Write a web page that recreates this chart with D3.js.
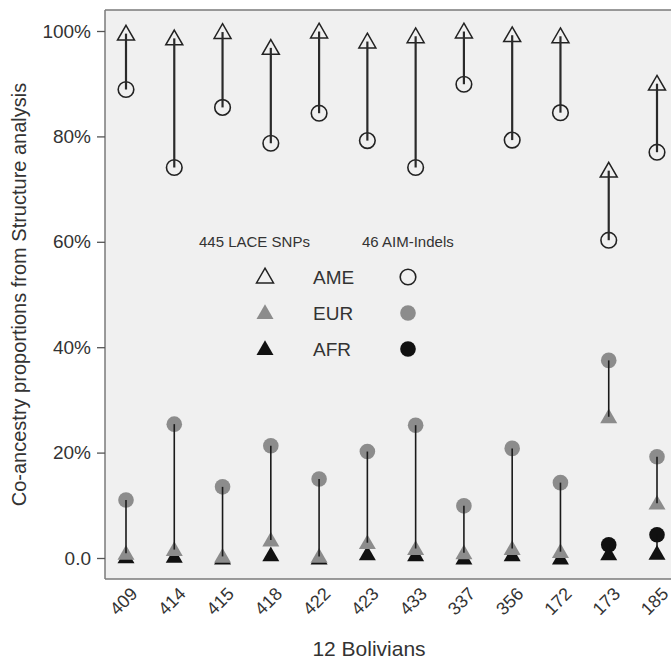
<!DOCTYPE html>
<html>
<head>
<meta charset="utf-8">
<script src="https://cdn.jsdelivr.net/npm/d3@7"></script>
<style>
  html, body { margin: 0; padding: 0; background: #fff; }
  svg { display: block; font-family: "Liberation Sans", Arial, sans-serif; }
</style>
</head>
<body>
<svg id="chart" width="671" height="659"></svg>
<script>
// Individuals (x categories)
const samples = ["409", "414", "415", "418", "422", "423", "433", "337", "356", "172", "173", "185"];

// Ancestry proportions (%) estimated with 445 LACE SNPs
const snpAME = [99.5, 98.6, 99.8, 96.8, 99.9, 98.0, 99.0, 99.9, 99.2, 99.0, 73.5, 90.0];
const snpEUR = [0.9, 1.6, 0.3, 3.4, 0.3, 2.9, 1.8, 1.0, 1.8, 1.2, 26.8, 10.4];
const snpAFR = [0.2, 0.3, 0.0, 0.6, 0.0, 0.8, 0.6, 0.0, 0.6, 0.0, 0.8, 0.9];

// Ancestry proportions (%) estimated with 46 AIM-Indels (null = no AFR component)
const indelAME = [88.9, 74.1, 85.5, 78.7, 84.4, 79.2, 74.1, 89.9, 79.3, 84.5, 60.3, 77.0];
const indelEUR = [11.0, 25.4, 13.5, 21.3, 15.0, 20.2, 25.2, 9.9, 20.8, 14.3, 37.5, 19.2];
const indelAFR = [null, null, null, null, null, null, null, null, null, null, 2.5, 4.4];

const yTicks = [0, 20, 40, 60, 80, 100];
const yTickLabels = ["0.0", "20%", "40%", "60%", "80%", "100%"];

const legendGroups = ["AME", "EUR", "AFR"];
const legendHeaders = ["445 LACE SNPs", "46 AIM-Indels"];

const fills = { AME: "none", EUR: "#8c8c8c", AFR: "#111111" };
const strokes = { AME: "#222222", EUR: "#8c8c8c", AFR: "#111111" };

const FONT = "'Liberation Sans', Arial, sans-serif";
const svg = d3.select("#chart");

const panel = { left: 105, top: 10, right: 678, bottom: 579 };

const x = d3.scalePoint()
  .domain(samples)
  .range([panel.left, panel.right])
  .padding(0.435);

const y = d3.scaleLinear()
  .domain([0, 100])
  .range([558, 31]);

// Panel background
svg.append("rect")
  .attr("x", panel.left)
  .attr("y", panel.top)
  .attr("width", panel.right - panel.left)
  .attr("height", panel.bottom - panel.top)
  .attr("fill", "#f0f0f0")
  .attr("stroke", "none");

// Panel border (left, top, bottom)
const border = svg.append("g").attr("stroke", "#7a7a7a").attr("stroke-width", 1.5).attr("fill", "none");
border.append("line").attr("x1", panel.left).attr("x2", panel.left).attr("y1", panel.top).attr("y2", panel.bottom);
border.append("line").attr("x1", panel.left).attr("x2", 671).attr("y1", panel.top).attr("y2", panel.top);
border.append("line").attr("x1", panel.left).attr("x2", 671).attr("y1", panel.bottom).attr("y2", panel.bottom);

// Y axis
const yAxis = d3.axisLeft(y)
  .tickValues(yTicks)
  .tickFormat((d, i) => yTickLabels[i])
  .tickSize(8)
  .tickPadding(6);

const yg = svg.append("g")
  .attr("transform", `translate(${panel.left},0)`)
  .call(yAxis);
yg.select(".domain").remove();
yg.selectAll(".tick line").attr("stroke", "#555").attr("stroke-width", 1.3);
yg.selectAll(".tick text")
  .attr("fill", "#333")
  .style("font-size", "19px")
  .style("font-family", FONT);

// X axis labels (rotated, no tick marks)
const xAxis = d3.axisBottom(x).tickSize(0).tickPadding(0);
const xg = svg.append("g")
  .attr("transform", `translate(0,${panel.bottom})`)
  .call(xAxis);
xg.select(".domain").remove();
xg.selectAll(".tick text")
  .attr("fill", "#333")
  .style("font-size", "18px")
  .style("font-family", FONT)
  .attr("text-anchor", "end")
  .attr("dy", null)
  .attr("y", null)
  .attr("transform", "translate(12,16) rotate(-45)");

// Axis titles
svg.append("text")
  .attr("transform", `translate(26,${(panel.top + panel.bottom) / 2}) rotate(-90)`)
  .attr("text-anchor", "middle")
  .attr("fill", "#333")
  .style("font-size", "20px")
  .style("font-family", FONT)
  .text("Co-ancestry proportions from Structure analysis");

svg.append("text")
  .attr("x", 369)
  .attr("y", 656)
  .attr("text-anchor", "middle")
  .attr("fill", "#333")
  .style("font-size", "21px")
  .style("font-family", FONT)
  .text("12 Bolivians");

// Marker helpers
const triSize = 125;
const circR = 7.8;
const triangle = d3.symbol().type(d3.symbolTriangle).size(triSize);

function drawGroup(key, snp, indel, lineColor, lineWidth) {
  const g = svg.append("g").attr("class", "grp-" + key);
  const rows = samples.map((s, i) => ({ s, snp: snp[i], indel: indel[i] }));
  const paired = rows.filter(d => d.indel != null);
  const filled = key !== "AME";

  const markers = g.append("g");
  const lines = g.append("g");

  lines.selectAll("line")
    .data(paired)
    .join("line")
    .attr("x1", d => x(d.s))
    .attr("x2", d => x(d.s))
    .attr("y1", d => y(d.indel))
    .attr("y2", d => y(d.snp))
    .attr("stroke", lineColor)
    .attr("stroke-width", lineWidth);

  markers.selectAll("circle")
    .data(paired)
    .join("circle")
    .attr("cx", d => x(d.s))
    .attr("cy", d => y(d.indel))
    .attr("r", circR)
    .attr("fill", filled ? fills[key] : "none")
    .attr("stroke", strokes[key])
    .attr("stroke-width", filled ? 0 : 1.6);

  markers.selectAll("path")
    .data(rows)
    .join("path")
    .attr("d", triangle)
    .attr("transform", d => `translate(${x(d.s)},${y(d.snp) + 1.5})`)
    .attr("fill", filled ? fills[key] : "none")
    .attr("stroke", strokes[key])
    .attr("stroke-width", filled ? 0 : 1.5);
}

drawGroup("AFR", snpAFR, indelAFR, "#111", 1.5);
drawGroup("EUR", snpEUR, indelEUR, "#1a1a1a", 1.6);
drawGroup("AME", snpAME, indelAME, "#2a2a2a", 2.2);

// Legend
const legend = svg.append("g").style("font-family", FONT);
legend.append("text").attr("x", 199).attr("y", 247).attr("fill", "#333")
  .style("font-size", "15px").text(legendHeaders[0]);
legend.append("text").attr("x", 362).attr("y", 247).attr("fill", "#333")
  .style("font-size", "15px").text(legendHeaders[1]);

const legendY = d3.scalePoint().domain(legendGroups).range([277, 349]);

legendGroups.forEach(k => {
  const ly = legendY(k);
  legend.append("path")
    .attr("d", triangle)
    .attr("transform", `translate(265,${ly + 1})`)
    .attr("fill", k === "AME" ? "none" : fills[k])
    .attr("stroke", k === "AME" ? strokes[k] : "none")
    .attr("stroke-width", 1.5);
  legend.append("text")
    .attr("x", 313)
    .attr("y", ly + 7)
    .attr("fill", "#333")
    .style("font-size", "19px")
    .text(k);
  legend.append("circle")
    .attr("cx", 408)
    .attr("cy", ly)
    .attr("r", circR)
    .attr("fill", k === "AME" ? "none" : fills[k])
    .attr("stroke", k === "AME" ? strokes[k] : "none")
    .attr("stroke-width", 1.6);
});
</script>
</body>
</html>
